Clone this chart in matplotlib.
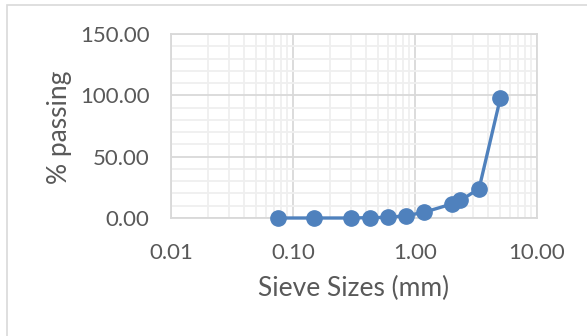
import matplotlib
matplotlib.use("Agg")
import matplotlib.pyplot as plt
from matplotlib.ticker import FixedLocator, LogLocator, MultipleLocator, NullFormatter, FuncFormatter
from matplotlib.patches import Rectangle

sieve_mm = [0.075, 0.15, 0.30, 0.425, 0.60, 0.85, 1.18, 2.00, 2.36, 3.35, 5.00]
passing = [0.0, 0.0, 0.0, 0.3, 0.5, 1.9, 4.6, 11.4, 14.3, 23.9, 97.5]
y_ticks = [0, 50, 100, 150]
x_ticks = [0.01, 0.1, 1, 10]

W, H = 587, 336
fig = plt.figure(figsize=(W / 100, H / 100), dpi=100)
fig.patch.set_facecolor("white")
fig.patches.append(Rectangle((7 / W, -0.1), 1.2, 1 - 5 / H + 0.1, transform=fig.transFigure,
                             fill=False, edgecolor="#d9d9d9", linewidth=1.2))

ax = fig.add_axes([171 / W, 1 - 218 / H, (537 - 171) / W, (218 - 34) / H])
ax.set_xscale("log")
ax.set_xlim(0.01, 10)
ax.set_ylim(0, 150)

ax.xaxis.set_major_locator(FixedLocator(x_ticks))
ax.xaxis.set_minor_locator(LogLocator(base=10, subs=range(2, 10)))
ax.xaxis.set_minor_formatter(NullFormatter())
ax.xaxis.set_major_formatter(FuncFormatter(lambda v, p: f"{v:.2f}"))
ax.yaxis.set_major_locator(FixedLocator(y_ticks))
ax.yaxis.set_minor_locator(MultipleLocator(10))
ax.yaxis.set_major_formatter(FuncFormatter(lambda v, p: f"{v:.2f}"))

ax.grid(which="minor", color="#efefef", linewidth=1.3)
ax.grid(which="major", color="#d9d9d9", linewidth=1.3)
ax.set_axisbelow(True)
for s in ax.spines.values():
    s.set_color("#d9d9d9")
    s.set_linewidth(1.3)

font = "Lato"
ax.tick_params(which="both", length=0)
ax.tick_params(axis="x", pad=18, labelsize=16, labelcolor="#595959")
ax.tick_params(axis="y", pad=15.5, labelsize=16, labelcolor="#595959")
for lab in ax.get_xticklabels() + ax.get_yticklabels():
    lab.set_fontfamily(font)

ax.plot(sieve_mm, passing, color="#4f81bd", linewidth=2.4, marker="o", markersize=11,
        clip_on=False, zorder=5)

ax.set_xlabel("Sieve Sizes (mm)", fontsize=19, color="#595959", family=font, labelpad=12)
ax.set_ylabel("% passing", fontsize=19, color="#595959", family=font, labelpad=12)
ax.xaxis.set_label_coords(354 / W, 1 - 288 / H, transform=fig.transFigure)
ax.yaxis.set_label_coords(60 / W, 1 - 127 / H, transform=fig.transFigure)
ax.xaxis.label.set_verticalalignment("center")
ax.yaxis.label.set_verticalalignment("center")

fig.savefig("out.png", dpi=100)
